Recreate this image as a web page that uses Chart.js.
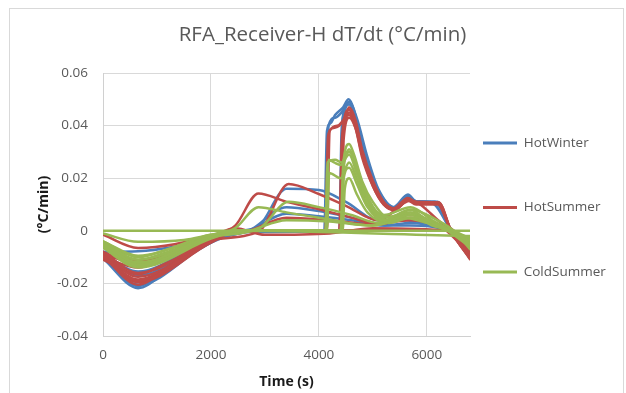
<!DOCTYPE html>
<html><head><meta charset="utf-8">
<script src="https://cdn.jsdelivr.net/npm/chart.js@4.4.1/dist/chart.umd.min.js"></script>
<style>
html,body{margin:0;padding:0;background:#fff;width:626px;height:393px;overflow:hidden;}
#frame{position:absolute;left:9px;top:8px;width:615px;height:420px;border:1px solid #d9d9d9;box-sizing:border-box;}
#c{position:absolute;left:0;top:0;}
</style></head><body>
<div id="frame"></div>
<canvas id="c" width="626" height="393"></canvas>
<script>
// ---- data ----
const seriesNames = ['HotWinter', 'HotSummer', 'ColdSummer'];
const seriesColors = ['#4a7ebb', '#be4b48', '#98b954'];
const xTicks = [0, 2000, 4000, 6000];
const yTicks = [-0.04, -0.02, 0, 0.02, 0.04, 0.06];

const hotWinterT = [
  [0,650,1200,2000,2500,3000,4100,4150,4220,4300,4450,4550,4650,4780,5000,5200,5380,5650,5800,6200,6450,6800],
  [0,650,2000,2500,4380,4420,4480,4560,4650,4800,5000,5200,5400,5650,5800,6200,6450,6800],
  [0,650,2000,2600,2900,3400,4000,4500,5100,5600,6000,6400,6800],
  [0,650,2000,2700,3400,4000,4600,5200,5700,6400,6800],
  [0,650,2000,2700,3400,4000,4600,5200,5700,6400,6800],
  [0,650,2000,2500,4400,4440,4560,4700,4850,5000,5200,5400,5650,5800,6100,6450,6800],
  [0,650,2000,2500,4130,4180,4300,4420,4560,4700,4900,5100,5400,5650,5800,6150,6450,6800],
  [0,650,1200,2000,2500,6400,6800]
];
const hotWinterV = [
  [-0.0105,-0.0218,-0.015,-0.0045,-0.001,0,0,0.038,0.041,0.044,0.047,0.050,0.046,0.034,0.020,0.012,0.009,0.0138,0.0112,0.011,0,-0.0105],
  [-0.010,-0.0205,-0.004,-0.0005,0,0.038,0.046,0.049,0.045,0.032,0.019,0.011,0.0085,0.013,0.011,0.0108,0,-0.010],
  [-0.0095,-0.019,-0.0035,0,0.002,0.016,0.0155,0.011,0.004,0.004,0.002,0,-0.009],
  [-0.009,-0.017,-0.003,0,0.009,0.0075,0.005,0.002,0.003,0,-0.008],
  [-0.0085,-0.0155,-0.0025,0,0.0065,0.0055,0.004,0.002,0.002,0,-0.007],
  [-0.008,-0.0078,-0.003,0,0,0.042,0.048,0.042,0.028,0.019,0.011,0.0085,0.0135,0.011,0.0105,0,-0.0095],
  [-0.0095,-0.0195,-0.004,0,0,0.040,0.043,0.045,0.049,0.043,0.028,0.016,0.009,0.0135,0.0112,0.011,0,-0.010],
  [-0.010,-0.021,-0.014,-0.0045,0,0,-0.009]
];

const hotSummerT = [
  [0,650,1200,2000,2500,4120,4170,4250,4380,4480,4560,4680,4800,5000,5200,5380,5650,5800,6220,6450,6800],
  [0,650,2000,2500,4380,4430,4560,4680,4800,5000,5200,5400,5650,5800,6200,6450,6800],
  [0,650,2000,2500,4380,4430,4560,4680,4800,5000,5200,5400,5650,5800,6200,6450,6800],
  [0,650,2000,2500,4150,4200,4350,4450,4560,4680,4800,5000,5200,5400,5650,5800,6220,6450,6800],
  [0,650,2000,2450,2880,3400,4000,4600,5100,5700,6300,6800],
  [0,650,2000,2900,3440,4000,4500,5100,5700,6290,6500,6800],
  [0,650,2000,2700,3400,4200,5000,5700,6400,6800],
  [0,650,2000,2450,3000,4200,5000,6400,6800],
  [0,650,2000,2500,4420,4460,4560,4680,4800,5000,5200,5400,5650,5800,6200,6450,6800],
  [0,650,1200,2000,2500,6400,6800],
  [0,650,1200,2000,2500,6400,6800],
  [0,650,1200,2000,2500,6400,6800]
];
const hotSummerV = [
  [-0.0095,-0.0205,-0.014,-0.0042,0,0,0.036,0.039,0.040,0.043,0.047,0.042,0.031,0.019,0.011,0.0085,0.0125,0.011,0.0108,0,-0.0105],
  [-0.009,-0.019,-0.004,0,0,0.036,0.046,0.041,0.030,0.018,0.0105,0.008,0.012,0.0105,0.0105,0,-0.0105],
  [-0.0085,-0.0175,-0.0035,0,0,0.034,0.044,0.039,0.028,0.017,0.010,0.0078,0.0115,0.010,0.010,0,-0.010],
  [-0.010,-0.0195,-0.0045,0,0,0.038,0.040,0.042,0.045,0.040,0.030,0.018,0.0105,0.0085,0.012,0.0108,0.0108,0,-0.0108],
  [-0.008,-0.016,-0.0025,0.002,0.0142,0.011,0.0082,0.005,0.0025,0.005,0.001,-0.009],
  [-0.0095,-0.0185,-0.0035,0,0.0178,0.014,0.0095,0.004,0.0114,0.0027,0,-0.0095],
  [-0.008,-0.013,-0.002,0,0.005,0.004,0.0025,0.004,0,-0.007],
  [-0.0015,-0.0065,-0.002,0.001,-0.0015,-0.001,0.001,0,-0.006],
  [-0.0085,-0.0115,-0.003,0,0,0.035,0.043,0.039,0.029,0.017,0.010,0.008,0.0115,0.0105,0.0105,0,-0.0095],
  [-0.009,-0.012,-0.009,-0.003,0,0,-0.006],
  [-0.010,-0.014,-0.010,-0.0035,0,0,-0.007],
  [-0.011,-0.0165,-0.012,-0.004,0,0,-0.008]
];

const coldSummerT = [
  [0,6800],
  [0,650,1500,2000,2450,6800],
  [0,650,2000,2500,4400,4450,4560,4650,4800,5000,5300,5700,6000,6400,6800],
  [0,650,2000,2500,4120,4160,4300,4420,4560,4700,4900,5200,5700,6100,6450,6800],
  [0,650,2000,2500,4420,4460,4560,4700,4900,5200,5700,6100,6450,6800],
  [0,650,2000,2450,2880,3400,4000,5000,5700,6300,6800],
  [0,650,2000,2900,3440,4000,4600,5100,5700,6200,6500,6800],
  [0,650,2000,2700,3400,4200,5000,5700,6400,6800],
  [0,650,2000,2500,4140,4180,4280,4400,4560,4700,4900,5200,5700,6100,6450,6800],
  [0,650,2000,2500,4420,4460,4560,4680,4850,5100,5600,6000,6400,6800],
  [0,650,1200,2000,2500,4440,4480,4560,4700,4900,5300,5700,6200,6500,6800],
  [0,650,1200,2000,2500,4150,4190,4400,4560,4700,4900,5300,5700,6200,6500,6800]
];
const coldSummerV = [
  [0,0],
  [-0.001,-0.0042,-0.0035,-0.0015,0,-0.002],
  [-0.005,-0.012,-0.002,0,0,0.025,0.033,0.029,0.019,0.011,0.005,0.008,0.004,0,-0.006],
  [-0.006,-0.013,-0.0025,0,0,0.026,0.027,0.026,0.031,0.024,0.013,0.005,0.007,0.003,0,-0.005],
  [-0.0045,-0.011,-0.002,0,0,0.020,0.024,0.018,0.009,0.004,0.006,0.002,0,-0.004],
  [-0.0055,-0.0125,-0.002,0.001,0.009,0.007,0.005,0.002,0.006,0.001,-0.006],
  [-0.006,-0.0135,-0.0025,0.001,0.011,0.009,0.006,0.003,0.008,0.004,0,-0.007],
  [-0.004,-0.0095,-0.0015,0,0.004,0.0035,0.002,0.005,0,-0.003],
  [-0.0065,-0.014,-0.003,0,0,0.027,0.026,0.025,0.029,0.022,0.012,0.006,0.009,0.004,0,-0.005],
  [-0.005,-0.0125,-0.002,0,0,0.024,0.030,0.026,0.014,0.006,0.005,0.003,0,-0.005],
  [-0.004,-0.010,-0.007,-0.002,0,0,0.016,0.020,0.014,0.007,0.003,0.005,0.002,0,-0.003],
  [-0.005,-0.011,-0.008,-0.002,0,0,0.022,0.020,0.026,0.020,0.010,0.004,0.007,0.002,0,-0.004]
];

// ---- build datasets ----
const FONT = '"Open Sans", Lato, sans-serif';
const allT = [hotWinterT, hotSummerT, coldSummerT];
const allV = [hotWinterV, hotSummerV, coldSummerV];
const datasets = [];
allT.forEach((lines, s) => {
  lines.forEach((tArr, i) => {
    datasets.push({
      label: seriesNames[s],
      legendEntry: i === 0,
      order: 3 - s,
      data: tArr.map((t, k) => ({x: t, y: allV[s][i][k]})),
      borderColor: seriesColors[s],
      backgroundColor: seriesColors[s],
      borderWidth: 2.5,
      pointRadius: 0,
      pointHoverRadius: 0,
      fill: false,
      cubicInterpolationMode: 'monotone',
      borderJoinStyle: 'round',
      borderCapStyle: 'round'
    });
  });
});

const legendShift = {
  id: 'legendShift',
  afterLayout(chart) {
    const L = chart.legend;
    if (L) { L.left -= 38; L.width += 38; L.top += 11; L.bottom += 11; }
  }
};

new Chart(document.getElementById('c'), {
  type: 'line',
  data: { datasets },
  plugins: [legendShift],
  options: {
    responsive: false,
    animation: false,
    events: [],
    layout: { padding: { left: 19, right: 0, top: 0, bottom: 0 } },
    plugins: {
      tooltip: { enabled: false },
      title: {
        display: true,
        text: 'RFA_Receiver-H dT/dt (°C/min)',
        color: '#595959',
        font: { family: FONT, size: 20.5, weight: 'normal' },
        padding: { top: 22.7, bottom: 25.7 }
      },
      legend: {
        position: 'right',
        maxWidth: 156,
        labels: {
          boxWidth: 34,
          boxHeight: 3,
          padding: 51,
          color: '#595959',
          font: { family: FONT, size: 13.5 },
          generateLabels(chart) {
            const items = Chart.defaults.plugins.legend.labels.generateLabels(chart);
            return items
              .filter(it => chart.data.datasets[it.datasetIndex].legendEntry)
              .sort((a, b) => a.datasetIndex - b.datasetIndex)
              .map(it => Object.assign(it, { lineWidth: 0, fillStyle: it.strokeStyle }));
          }
        }
      }
    },
    scales: {
      x: {
        type: 'linear',
        min: 0,
        max: 6800,
        afterBuildTicks: (scale) => { scale.ticks = xTicks.map(v => ({ value: v })); },
        afterFit: (scale) => { scale.height = 57; },
        ticks: { color: '#595959', font: { family: FONT, size: 13.5 }, padding: 11, maxRotation: 0,
          callback: (v) => String(v) },
        grid: { color: '#d9d9d9', drawTicks: false },
        border: { color: '#d0d0d0' },
        title: { display: true, text: 'Time (s)', color: '#1a1a1a', font: { family: FONT, size: 14, weight: 'bold' }, padding: { top: 0, bottom: 2.5 } }
      },
      y: {
        min: -0.04,
        max: 0.06,
        afterBuildTicks: (scale) => { scale.ticks = yTicks.map(v => ({ value: v })); },
        afterFit: (scale) => { scale.width = 84; },
        ticks: {
          color: '#595959', font: { family: FONT, size: 13.5 }, padding: 15,
          callback: (v) => Math.abs(v) < 1e-9 ? '0' : Number(v).toFixed(2)
        },
        grid: { color: '#d9d9d9', drawTicks: false },
        border: { color: '#d0d0d0' },
        title: { display: true, text: '(°C/min)', color: '#1a1a1a', font: { family: FONT, size: 14, weight: 'bold' }, padding: { top: 16.6, bottom: 0 } }
      }
    }
  }
});
</script></body></html>
